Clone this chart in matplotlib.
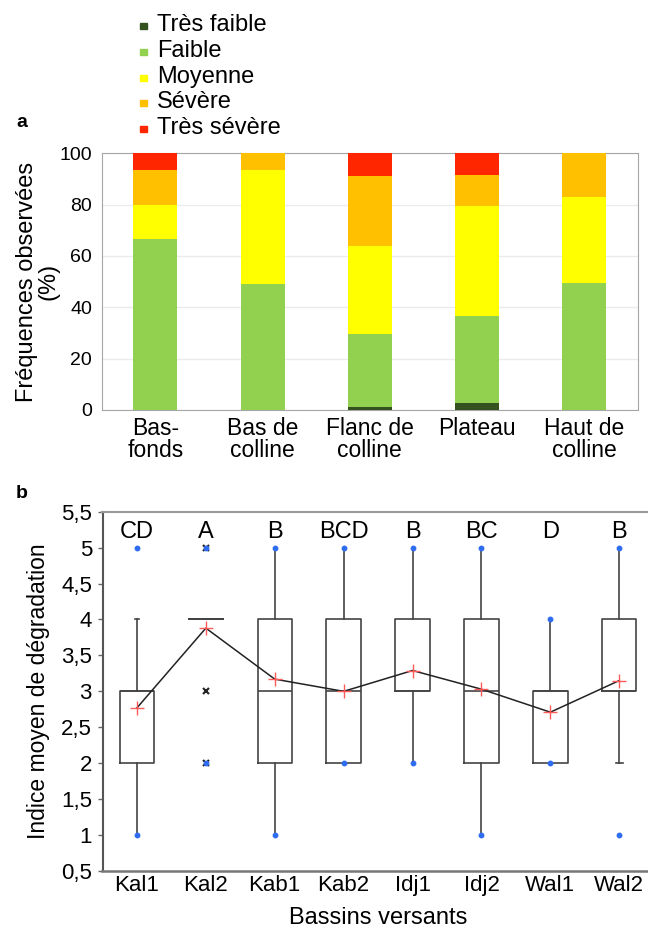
import numpy as np
import matplotlib
matplotlib.use("Agg")
import matplotlib.pyplot as plt
from matplotlib.patches import Rectangle

plt.rcParams['font.family'] = ['Liberation Sans', 'DejaVu Sans']

# ---- panel a data ----
positions = ["Bas-\nfonds", "Bas de\ncolline", "Flanc de\ncolline", "Plateau", "Haut de\ncolline"]
classes = ["Très faible", "Faible", "Moyenne", "Sévère", "Très sévère"]
tres_faible = [0, 0, 1.0, 2.6, 0]
faible = [66.7, 48.9, 28.6, 34.2, 49.6]
moyenne = [13.3, 44.4, 34.3, 42.8, 33.3]
severe = [13.3, 6.7, 27.2, 11.8, 17.1]
tres_severe = [6.7, 0, 8.9, 8.6, 0]
class_colors = ["#34521f", "#92d050", "#ffff00", "#ffc000", "#ff2600"]

# ---- panel b data ----
bassins = ["Kal1", "Kal2", "Kab1", "Kab2", "Idj1", "Idj2", "Wal1", "Wal2"]
whis_lo = [1, 4, 1, 2, 2, 1, 2, 2]
q1 = [2, 4, 2, 2, 3, 2, 2, 3]
med = [3, 4, 3, 3, 3, 3, 3, 3]
q3 = [3, 4, 4, 4, 4, 4, 3, 4]
whis_hi = [4, 4, 5, 5, 5, 5, 4, 5]
means = [2.77, 3.88, 3.17, 3.0, 3.29, 3.03, 2.71, 3.15]
mins = [1, 2, 1, 2, 2, 1, 2, 1]
maxs = [5, 5, 5, 5, 5, 5, 4, 5]
fliers = [[], [2, 3, 5], [], [], [], [], [], []]
letters = ["CD", "A", "B", "BCD", "B", "BC", "D", "B"]

W, H = 648, 931
fig = plt.figure(figsize=(W / 100, H / 100), dpi=100)

# ================= panel a =================
ax1 = fig.add_axes([101.7 / W, 1 - 410 / H, 536.3 / W, 256.7 / H])
x = np.arange(len(positions))
series = [tres_faible, faible, moyenne, severe, tres_severe]
bottom = np.zeros(len(positions))
for vals, col, lab in zip(series, class_colors, classes):
    ax1.bar(x, vals, 0.41, bottom=bottom, color=col, label=lab, zorder=3)
    bottom += np.array(vals)
ax1.set_xlim(-0.5, 4.5)
ax1.set_ylim(0, 100)
ax1.set_yticks([0, 20, 40, 60, 80, 100])
ax1.set_xticks(x)
ax1.set_xticklabels(positions, linespacing=0.92)
ax1.tick_params(axis="x", length=0, labelsize=16.5, pad=5)
ax1.tick_params(axis="y", length=0, labelsize=14, pad=7)
ax1.yaxis.grid(True, color="#ebebeb", lw=1, zorder=0)
for s in ax1.spines.values():
    s.set_color("#a6a6a6")
ax1.set_ylabel("Fréquences observées\n(%)", fontsize=17, linespacing=0.98, labelpad=0)

# legend: small squares + labels
for k, (lab, col) in enumerate(zip(classes, class_colors)):
    yc = 25.7 + 25.9 * k
    fig.add_artist(Rectangle(((143 - 3.5) / W, 1 - (yc + 3) / H), 7 / W, 6 / H,
                             transform=fig.transFigure, color=col))
    fig.text(157 / W, 1 - (yc + 5) / H, lab, fontsize=17, va="baseline")

fig.text(16 / W, 1 - 127 / H, "a", fontsize=14, fontweight="bold")

# ================= panel b =================
ax2 = fig.add_axes([102.5 / W, 1 - 871 / H, 551.2 / W, 359.3 / H])
stats = []
for i in range(len(bassins)):
    stats.append(dict(whislo=whis_lo[i], q1=q1[i], med=med[i], q3=q3[i],
                      whishi=whis_hi[i], fliers=[]))
pos = np.arange(len(bassins))
line_kw = dict(color="#444444", lw=1.2)
ax2.bxp(stats, positions=pos, widths=0.5, showfliers=False, showcaps=False,
        boxprops=line_kw, whiskerprops=line_kw, medianprops=line_kw)
# short caps seen on a few whiskers
ax2.plot([pos[0] - 0.03, pos[0] + 0.03], [whis_hi[0]] * 2, color="#444444", lw=1.2)
ax2.plot([pos[7] - 0.05, pos[7] + 0.05], [whis_lo[7]] * 2, color="#444444", lw=1.2)

for i, fl in enumerate(fliers):
    if fl:
        ax2.plot([pos[i]] * len(fl), fl, "x", color="#222222", ms=5, mew=1.5, zorder=4)
ax2.plot(pos, mins, "o", color="#2f6df0", ms=3.2, zorder=5)
ax2.plot(pos, maxs, "o", color="#2f6df0", ms=3.2, zorder=5)

ax2.plot(pos, means, "-", color="#222222", lw=1.1, zorder=5)
ax2.plot(pos, means, "+", color="#ff5a5a", ms=10, mew=1.0, zorder=6)

for i, t in enumerate(letters):
    ax2.text(pos[i], 5.22, t, ha="center", va="center", fontsize=17)

ax2.set_xlim(-0.5, 7.5)
ax2.set_ylim(0.5, 5.5)
yt = np.arange(0.5, 5.51, 0.5)
ax2.set_yticks(yt)
ax2.set_yticklabels([("%g" % v).replace(".", ",") for v in yt])
ax2.set_xticks(pos)
ax2.set_xticklabels(bassins)
ax2.tick_params(axis="y", length=3.6, width=1, color="#666666", labelsize=16, pad=4)
ax2.tick_params(axis="x", length=0, labelsize=16, pad=3)
ax2.spines["right"].set_visible(False)
ax2.spines["top"].set_color("#999999")
ax2.spines["top"].set_linewidth(1.5)
ax2.spines["left"].set_color("#555555")
ax2.spines["bottom"].set_color("#777777")
ax2.spines["left"].set_linewidth(1.5)
ax2.spines["bottom"].set_linewidth(1.8)
ax2.set_ylabel("Indice moyen de dégradation", fontsize=16.5, labelpad=8)
ax2.set_xlabel("Bassins versants", fontsize=17, labelpad=8)

fig.text(16 / W, 1 - 498 / H, "b", fontsize=14, fontweight="bold")

fig.savefig("out.png", dpi=100)
